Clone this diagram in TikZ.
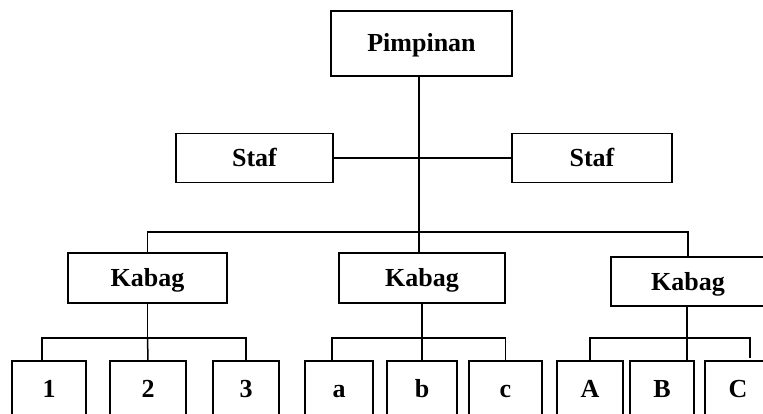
\documentclass[tikz,border=0pt]{standalone}
\usepackage{fontspec}
\setmainfont{Liberation Serif}
\begin{document}
\begin{tikzpicture}[x=1pt,y=-1pt,
  box/.style={draw, line width=1.5pt, inner sep=0pt, text height=17pt, text depth=0pt,
    font=\fontsize{26}{28}\selectfont\bfseries},
  leaf/.style={box, minimum height=56pt},
  conn/.style={line width=1.5pt}]
\fill[white] (0,0) rectangle (763,414);
\useasboundingbox (0,0) rectangle (763,414);
\clip (0,0) rectangle (763,414);
% top
\node[box, minimum width=181pt, minimum height=65pt] (P) at (421.5,43.5) {Pimpinan};
\node[box, minimum width=157pt, minimum height=49pt] (S1) at (254.5,158) {Staf};
\node[box, minimum width=160pt, minimum height=49pt] (S2) at (592,158) {Staf};
% kabag
\node[box, minimum width=159pt, minimum height=50pt] (K1) at (147.5,278) {Kabag};
\node[box, minimum width=166pt, minimum height=50pt] (K2) at (422,278) {Kabag};
\node[box, minimum width=154pt, minimum height=49pt] (K3) at (688,281.5) {Kabag};
% leaves
\node[leaf, minimum width=74pt] (B1) at (49,389) {1};
\node[leaf, minimum width=76pt] (B2) at (148,389) {2};
\node[leaf, minimum width=66pt] (B3) at (246,389) {3};
\node[leaf, minimum width=68pt] (Ba) at (339,389) {a};
\node[leaf, minimum width=70pt] (Bb) at (422,389) {b};
\node[leaf, minimum width=73pt] (Bc) at (505.5,389) {c};
\node[leaf, minimum width=66pt] (BA) at (590,389) {A};
\node[leaf, minimum width=64pt] (BB) at (662,389) {B};
\node[leaf, minimum width=66pt] (BC) at (738,389) {C};
% connectors
\coordinate (bus) at (419,232);
\draw[conn] ([xshift=-2.5pt]P.south) -- ([xshift=-2.5pt]P.south |- K2.north);
\draw[conn] (S1.east) -- (S2.west);
\draw[conn] (K1.north) |- (bus) -| (K3.north);
% left group
\draw[conn] (K1.south) -- ++(0,34) coordinate (j1);
\draw[conn] ([xshift=-7pt]B1.north) |- (j1) -| (B3.north);
\draw[conn] (j1) -- (B2.north);
% middle group
\draw[conn] (K2.south) -- ++(0,34) coordinate (j2);
\draw[conn] ([xshift=-7pt]Ba.north) |- (j2) -| (Bc.north);
\draw[conn] (j2) -- (Bb.north);
% right group
\draw[conn] ([xshift=-1pt]K3.south) -- ++(0,31) coordinate (j3);
\coordinate (cend) at (750,358);
\draw[conn] (BA.north) |- (j3) -| (cend);
\draw[conn] (j3) -- (j3 |- BB.north);
\end{tikzpicture}
\end{document}
